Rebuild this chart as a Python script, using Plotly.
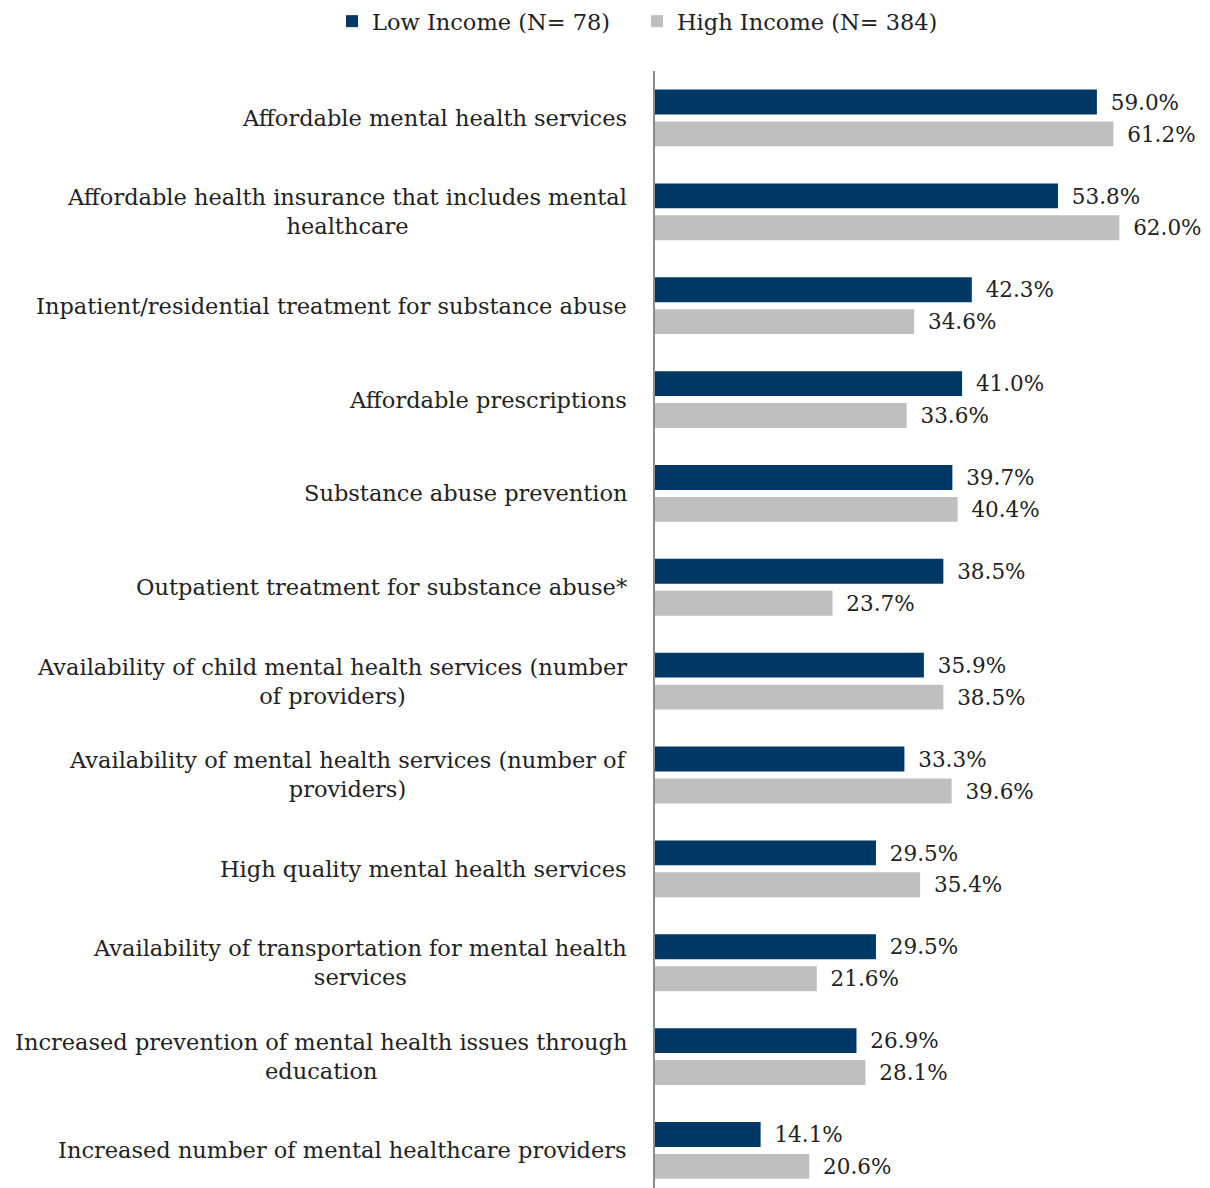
import plotly.graph_objects as go

categories = [
    "Affordable mental health services",
    "Affordable health insurance that includes mental<br>healthcare",
    "Inpatient/residential treatment for substance abuse",
    "Affordable prescriptions",
    "Substance abuse prevention",
    "Outpatient treatment for substance abuse*",
    "Availability of child mental health services (number<br>of providers)",
    "Availability of mental health services (number of<br>providers)",
    "High quality mental health services",
    "Availability of transportation for mental health<br>services",
    "Increased prevention of mental health issues through<br>education",
    "Increased number of mental healthcare providers",
]
low_income = [59.0, 53.8, 42.3, 41.0, 39.7, 38.5, 35.9, 33.3, 29.5, 29.5, 26.9, 14.1]
high_income = [61.2, 62.0, 34.6, 33.6, 40.4, 23.7, 38.5, 39.6, 35.4, 21.6, 28.1, 20.6]
series_names = ["Low Income (N= 78)", "High Income (N= 384)"]
colors = ["#003865", "#BFBFBF"]

FONT = "DejaVu Serif"
FS = 22.5

fig = go.Figure()
for name, vals, col in zip(series_names, [low_income, high_income], colors):
    fig.add_trace(go.Bar(
        y=categories, x=vals, orientation="h", name=name,
        marker=dict(color=col, line=dict(width=0)),
        text=[f"\u2002{v:.1f}%" for v in vals], textposition="outside",
        textfont=dict(family=FONT, size=FS, color="#222222"),
        cliponaxis=False,
    ))

for c in categories:
    fig.add_annotation(
        x=0, y=c, xref="x", yref="y", text=c, showarrow=False,
        xanchor="right", align="center", xshift=-26,
        font=dict(family=FONT, size=FS, color="#222222"),
    )

fig.update_layout(
    width=1210, height=1188,
    margin=dict(l=655, r=0, t=70, b=0),
    plot_bgcolor="white", paper_bgcolor="white",
    barmode="group", bargap=0.32, bargroupgap=0.22,
    font=dict(family=FONT, size=FS, color="#222222"),
    legend=dict(orientation="h", x=-0.582, xanchor="left", y=1.025, yanchor="bottom",
                entrywidth=260, entrywidthmode="pixels",
                font=dict(family=FONT, size=FS, color="#222222"), traceorder="normal"),
    xaxis=dict(range=[0, 74.1], showgrid=False, showticklabels=False, zeroline=False,
               showline=False, ticks=""),
    yaxis=dict(range=[11.4, -0.5], showticklabels=False, showgrid=False, ticks="",
               showline=True, linecolor="#8C8C8C", linewidth=2),
)

fig.write_html("out.html")
